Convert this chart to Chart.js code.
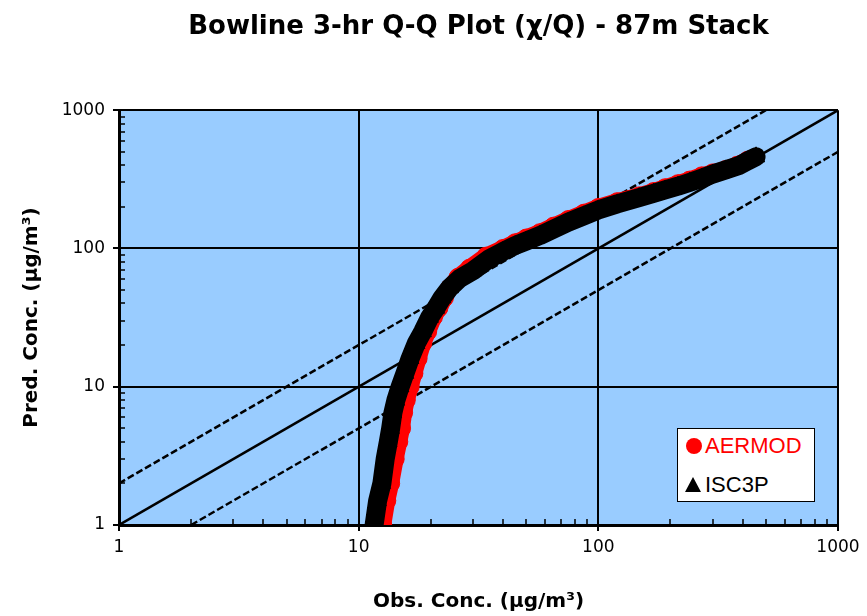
<!DOCTYPE html>
<html>
<head>
<meta charset="utf-8">
<title>Bowline 3-hr Q-Q Plot</title>
<script src="https://cdn.jsdelivr.net/npm/chart.js@4.4.1/dist/chart.umd.min.js"></script>
<style>
  body { margin: 0; background: #fff; }
  #wrap { position: relative; width: 867px; height: 616px; }
  #legend {
    position: absolute; left: 677px; top: 428px; width: 138px; height: 74px;
    box-sizing: border-box; background: #fff; border: 1.5px solid #000;
    font-family: 'Liberation Sans', Arial, sans-serif; font-size: 22px;
  }
  .item { position: absolute; left: 0; height: 26px; line-height: 26px; white-space: nowrap; }
  .item .txt { position: absolute; left: 27px; top: 0; }
  .dot { position: absolute; left: 8px; top: 5px; width: 16px; height: 16px; border-radius: 50%; background: #f00; }
  .tri { position: absolute; left: 7px; top: 5px; width: 16px; height: 15px; background: #000;
         clip-path: polygon(50% 0, 100% 100%, 0 100%); }
</style>
</head>
<body>
<div id="wrap">
  <canvas id="qq" width="867" height="616"></canvas>
  <div id="legend">
    <div class="item" style="top:4px"><span class="dot"></span><span class="txt" style="color:#f00">AERMOD</span></div>
    <div class="item" style="top:43px"><span class="tri"></span><span class="txt" style="color:#000">ISC3P</span></div>
  </div>
</div>
<script>
// Axis ticks (decades + minor steps)
const decadeTicks = [1, 10, 100, 1000];
const minorSteps = [2, 3, 4, 5, 6, 7, 8, 9];

// ISC3P ranked pairs (obs, pred), µg/m3
const isc3pObs = [11.6, 12.0, 12.5, 12.9, 13.3, 13.6, 13.9, 14.3, 14.9, 15.6, 16.4, 17.4, 18.5, 19.8, 21.0, 22.3, 24.0, 26.5, 30, 35, 40, 45, 50, 57, 65, 75, 87, 100, 120, 148, 170, 190, 215, 240, 270, 300, 340, 387, 420, 455];
const isc3pPred = [1.0, 1.5, 2.0, 3.0, 4.0, 5.0, 6.5, 8.0, 10, 12.5, 16, 20.6, 25, 31.8, 37, 44, 52, 61, 69, 84, 95, 105, 113, 124, 138, 155, 172, 190, 210, 233, 250, 265, 282, 300, 322, 345, 370, 398, 430, 460];

// AERMOD ranked pairs (obs, pred), µg/m3
const aermodObs = [12.6, 13.1, 13.6, 14.2, 14.7, 15.1, 15.4, 15.8, 16.4, 17.0, 17.7, 18.5, 19.4, 20.5, 21.6, 22.8, 24.0, 26, 29, 34, 40, 45, 50, 57, 65, 75, 87, 100, 120, 148, 170, 190, 215, 240, 270, 300, 340, 380, 420];
const aermodPred = [1.0, 1.5, 2.0, 3.0, 4.0, 5.0, 6.5, 8.0, 10, 12.5, 16, 20.6, 25, 31.8, 37, 44, 52, 62, 72, 88, 100, 110, 119, 130, 145, 162, 180, 198, 218, 240, 258, 275, 294, 312, 335, 352, 372, 400, 435];

// 1:1 and factor-of-2 lines
const oneToOneObs = [1, 1000];
const oneToOnePred = [1, 1000];
const overTwoObs = [1, 500];
const overTwoPred = [2, 1000];
const underTwoObs = [2, 1000];
const underTwoPred = [1, 500];

const FONT = 'DejaVu Sans';
const isMajor = v => decadeTicks.includes(v);
const allTicks = decadeTicks.flatMap(d => d === 1000 ? [d] : [d, ...minorSteps.map(m => m * d)]);
const toPoints = (xs, ys) => xs.map((x, i) => ({ x, y: ys[i] }));

const plotBackground = {
  id: 'plotBackground',
  beforeDraw(chart) {
    const { ctx, chartArea: a } = chart;
    ctx.save();
    ctx.fillStyle = '#99CCFF';
    ctx.fillRect(a.left, a.top, a.right - a.left, a.bottom - a.top);
    ctx.restore();
  }
};

// minor ticks point inward, like the original Excel chart
const minorTicks = {
  id: 'minorTicks',
  beforeDatasetsDraw(chart) {
    const { ctx, chartArea: a, scales: { x, y } } = chart;
    ctx.save();
    ctx.strokeStyle = '#000';
    ctx.lineWidth = 1.5;
    ctx.beginPath();
    allTicks.filter(v => !isMajor(v)).forEach(v => {
      const px = Math.round(x.getPixelForValue(v));
      ctx.moveTo(px, a.bottom);
      ctx.lineTo(px, a.bottom - 6);
      const py = Math.round(y.getPixelForValue(v));
      ctx.moveTo(a.left, py);
      ctx.lineTo(a.left + 6, py);
    });
    ctx.stroke();
    ctx.restore();
  }
};

const logAxis = (position, title, fit) => ({
  type: 'logarithmic',
  position,
  min: 1,
  max: 1000,
  afterBuildTicks: s => { s.ticks = allTicks.map(value => ({ value })); },
  afterFit: fit,
  grid: {
    color: c => (c.tick && isMajor(c.tick.value)) ? '#000' : 'rgba(0,0,0,0)',
    lineWidth: 2,
    tickLength: 6
  },
  border: { color: '#000', width: 3 },
  ticks: {
    autoSkip: false,
    maxRotation: 0,
    padding: position === 'left' ? 8 : 6,
    color: '#000',
    font: { family: FONT, size: 17 },
    callback: v => isMajor(v) ? String(v) : ''
  },
  title: {
    display: true,
    text: title,
    color: '#000',
    font: { family: FONT, size: 20, weight: 'bold' },
    padding: position === 'left' ? { top: 20, bottom: 0 } : { top: 0, bottom: 2 }
  }
});

const refLine = (xs, ys, dash) => ({
  data: toPoints(xs, ys),
  showLine: true,
  borderColor: '#000',
  borderWidth: 2.5,
  borderDash: dash,
  pointRadius: 0,
  clip: 0,
  order: 3
});

new Chart(document.getElementById('qq'), {
  type: 'scatter',
  data: {
    datasets: [
      {
        label: 'ISC3P',
        data: toPoints(isc3pObs, isc3pPred),
        showLine: true,
        borderColor: '#000',
        borderWidth: 19,
        borderJoinStyle: 'round',
        borderCapStyle: 'round',
        pointStyle: 'triangle',
        pointRadius: 10,
        pointBorderWidth: 1,
        pointBackgroundColor: '#000',
        pointBorderColor: '#000',
        clip: 0,
        order: 0
      },
      {
        label: 'AERMOD',
        data: toPoints(aermodObs, aermodPred),
        showLine: true,
        borderColor: '#f00',
        borderWidth: 17,
        borderJoinStyle: 'round',
        borderCapStyle: 'round',
        pointStyle: 'circle',
        pointRadius: 9,
        pointBorderWidth: 1,
        pointBackgroundColor: '#f00',
        pointBorderColor: '#f00',
        clip: 0,
        order: 1
      },
      refLine(oneToOneObs, oneToOnePred, []),
      refLine(overTwoObs, overTwoPred, [7, 3]),
      refLine(underTwoObs, underTwoPred, [7, 3])
    ]
  },
  options: {
    responsive: false,
    animation: false,
    events: [],
    layout: { padding: { left: 0, right: 29, top: 0, bottom: 0 } },
    scales: {
      x: logAxis('bottom', 'Obs. Conc. (µg/m³)', s => { s.height = 91; }),
      y: logAxis('left', 'Pred. Conc. (µg/m³)', s => { s.width = 119; })
    },
    plugins: {
      legend: { display: false },
      tooltip: { enabled: false },
      title: {
        display: true,
        text: 'Bowline 3-hr Q-Q Plot (χ/Q) - 87m Stack',
        fullSize: false,
        color: '#000',
        font: { family: FONT, size: 26, weight: 'bold' },
        padding: { top: 12, bottom: 67 }
      }
    }
  },
  plugins: [plotBackground, minorTicks]
});
</script>
</body>
</html>
